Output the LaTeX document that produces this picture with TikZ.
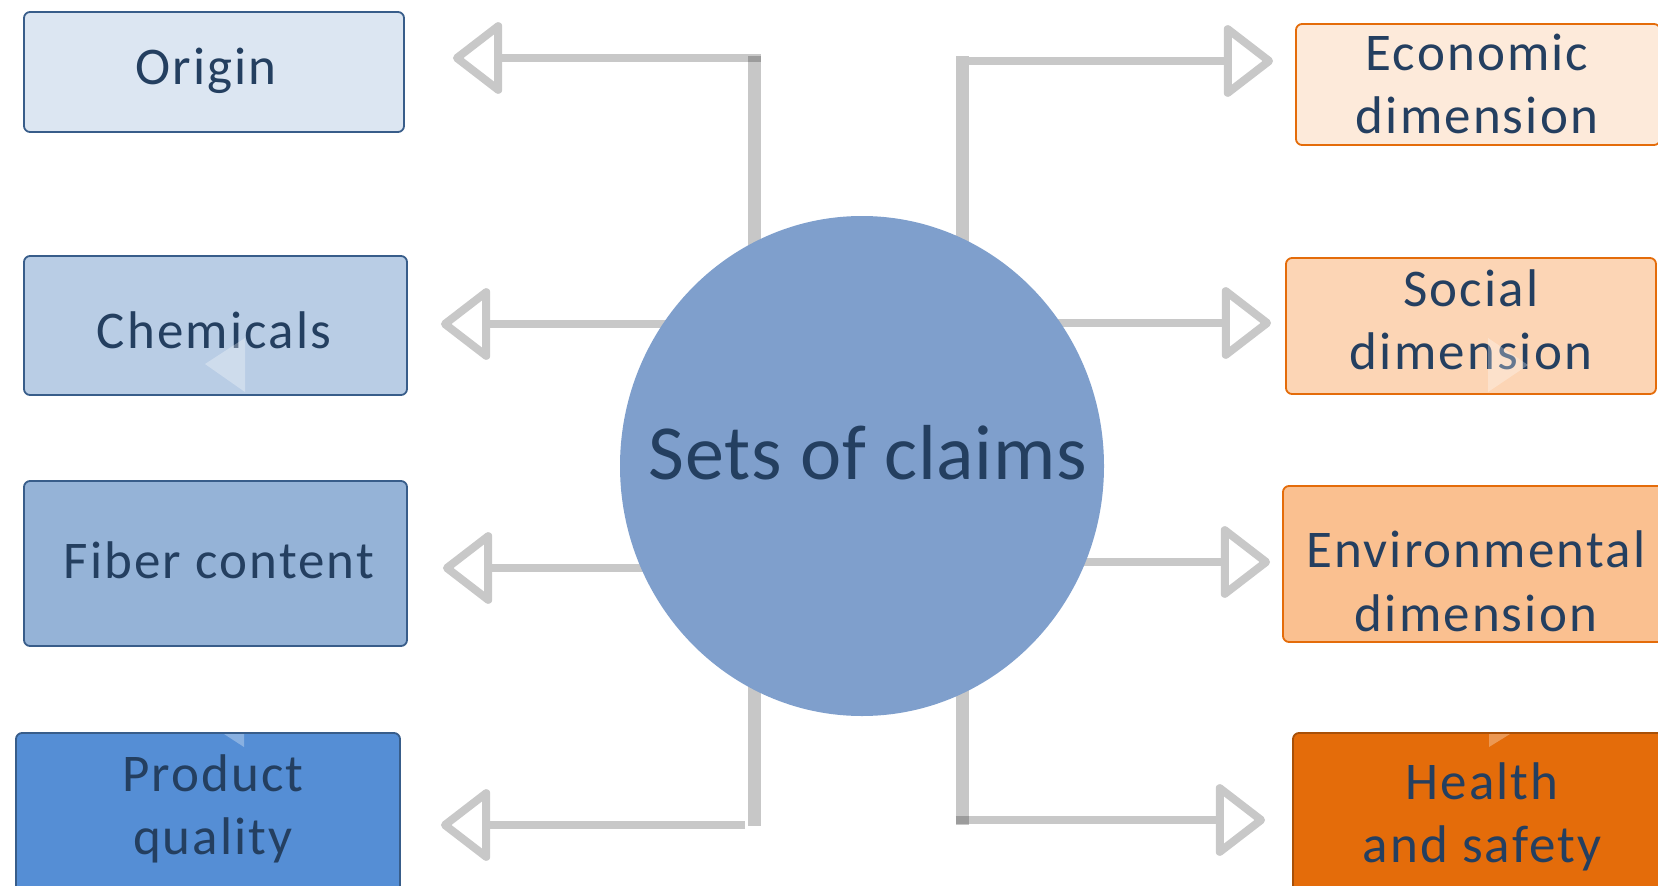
\documentclass[tikz,border=0pt]{standalone}
\usepackage{fontspec}
\setmainfont{Carlito}
\newfontfamily\lblfont{Carlito}[LetterSpace=4]
\newfontfamily\hubfont{Carlito}[LetterSpace=1]
\usetikzlibrary{arrows.meta,shapes.geometric}

\definecolor{linegray}{RGB}{200,200,200}
\definecolor{ink}{RGB}{36,63,96}
\definecolor{hubblue}{RGB}{127,159,204}
\definecolor{blueedge}{RGB}{56,93,138}
\definecolor{orangeedge}{RGB}{228,108,10}
\definecolor{darkorangeedge}{RGB}{168,80,8}
\definecolor{bfillA}{HTML}{DCE6F2}
\definecolor{bfillB}{HTML}{B9CDE5}
\definecolor{bfillC}{HTML}{95B3D7}
\definecolor{bfillD}{HTML}{558ED5}
\definecolor{ofillA}{HTML}{FDEADA}
\definecolor{ofillB}{HTML}{FCD5B5}
\definecolor{ofillC}{HTML}{FAC090}
\definecolor{ofillD}{HTML}{E46C0A}

\begin{document}
\begin{tikzpicture}[x=1pt,y=-1pt,
  box/.style={draw, line width=1.8pt, rounded corners=6pt, inner sep=0pt},
  bluebox/.style={box, draw=blueedge},
  orangebox/.style={box, draw=orangeedge},
  lbl/.style={font=\lblfont\fontsize{53}{63.5}\selectfont, text=ink, align=center, inner sep=0pt},
  bar/.style={draw=black, draw opacity=0.22, line width=13pt},
  conn/.style={draw=linegray, line width=7.5pt,
    -{Triangle[open, length=52pt, width=78pt, line width=8pt, round]}},
  ghost/.style={fill=white, fill opacity=0.3},
]
\useasboundingbox (0,0) rectangle (1658,886);

% left column of boxes
\node[bluebox, fill=bfillA, minimum width=380pt, minimum height=120pt] (origin) at (214,72) {};
\node[bluebox, fill=bfillB, minimum width=383pt, minimum height=139pt] (chem) at (215.5,325.5) {};
\node[bluebox, fill=bfillC, minimum width=383pt, minimum height=165pt] (fiber) at (215.5,563.5) {};
\node[bluebox, fill=bfillD, minimum width=384pt, minimum height=170pt] (prod) at (208,818) {};

% right column of boxes
\node[orangebox, fill=ofillA, minimum width=364pt, minimum height=121pt] (econ) at (1478,84.5) {};
\node[orangebox, fill=ofillB, minimum width=370pt, minimum height=136pt] (social) at (1471,326) {};
\node[orangebox, fill=ofillC, minimum width=386pt, minimum height=156pt] (env) at (1476,564) {};
\node[box, draw=darkorangeedge, fill=ofillD, minimum width=378pt, minimum height=170pt] (health) at (1482,818) {};

% spine ends and branch starts
\coordinate (lt) at (754,56);
\coordinate (lb) at (754,826);
\coordinate (rt) at (962,56);
\coordinate (rb) at (962,825);
\coordinate (o-start) at (760.5,58);
\coordinate (c-start) at (754,324);
\coordinate (f-start) at (754,568);
\coordinate (p-start) at (745,825);
\coordinate (e-start) at (969,61);
\coordinate (s-start) at (962,323);
\coordinate (v-start) at (962,562);
\coordinate (h-start) at (955.5,820);

% branches
\draw[conn, shorten >=48pt] (o-start) -- (o-start -| origin.east);
\draw[conn, shorten >=33pt] (c-start) -- (c-start -| chem.east);
\draw[conn, shorten >=35pt] (f-start) -- (f-start -| fiber.east);
\draw[conn, shorten >=40pt] (p-start) -- (p-start -| prod.east);
\draw[conn, shorten >=22pt] (e-start) -- (e-start -| econ.west);
\draw[conn, shorten >=14pt] (s-start) -- (s-start -| social.west);
\draw[conn, shorten >=12pt] (v-start) -- (v-start -| env.west);
\draw[conn, shorten >=27pt] (h-start) -- (h-start -| health.west);

% spines
\draw[bar] (lt) -- (lb);
\draw[bar] (rt) -- (rb);

% hub
\node[ellipse, fill=hubblue, minimum width=484pt, minimum height=500pt, inner sep=0pt] (hub) at (862,466) {};
\node[font=\hubfont\fontsize{78}{90}\selectfont, text=ink, inner sep=0pt] (hub-t) at (868,453) {Sets of claims};

% labels
\node[lbl] (origin-t) at (206,71) {Origin};
\node[lbl] (chem-t) at (214,330) {Chemicals};
\node[lbl] (fiber-t) at (219,560) {Fiber content};
\node[lbl] (prod-t) at (213,809) {Product\\quality};
\node[lbl] (econ-t) at (1477,84) {Economic\\dimension};
\node[lbl] (social-t) at (1471,320) {Social\\dimension};
\node[lbl] (env-t) at (1476,581.5) {Environmental\\dimension};
\node[lbl] (health-t) at (1482,817) {Health\\and safety};

% faint chevron tails
\fill[ghost] (205,364) -- (245,338) -- (245,392) -- cycle;
\fill[ghost] (1488,338) -- (1528,365) -- (1488,392) -- cycle;
\fill[ghost] (224,734) -- (244,734) -- (244,747) -- cycle;
\fill[ghost] (1489,734) -- (1510,734) -- (1489,747) -- cycle;
\end{tikzpicture}
\end{document}
